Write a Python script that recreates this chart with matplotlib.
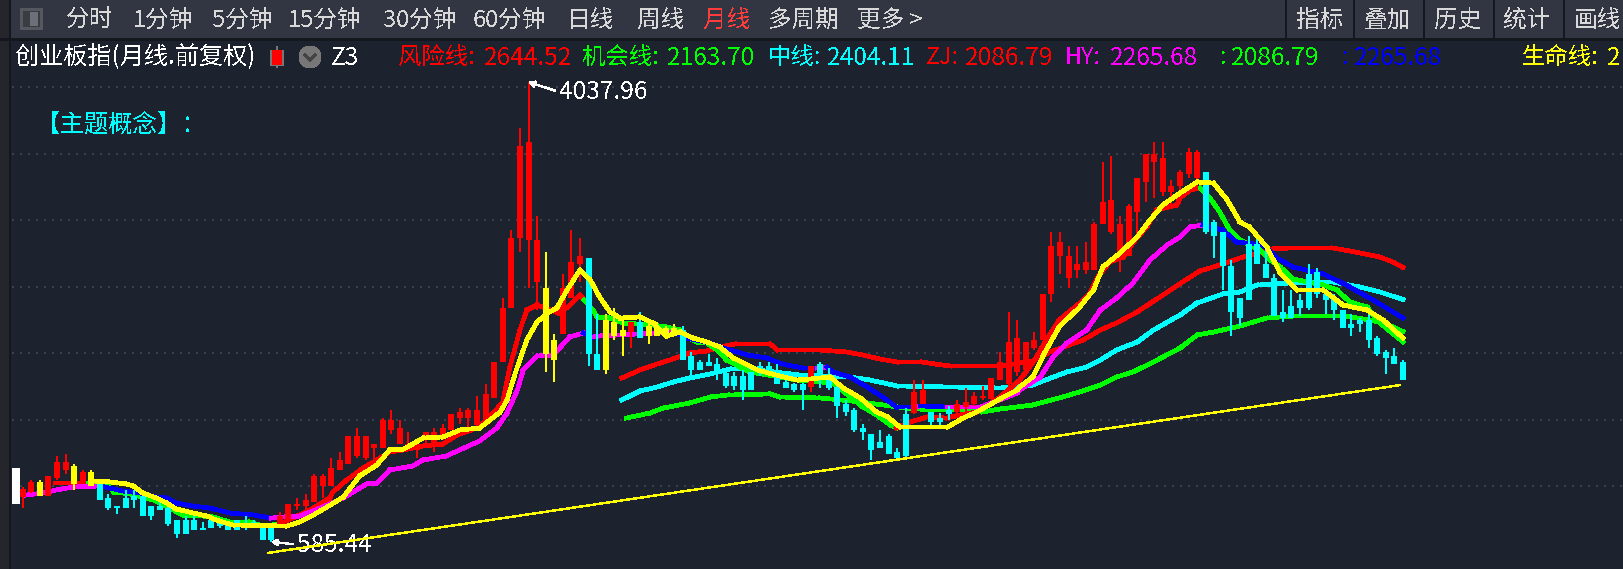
import numpy as np
import matplotlib
matplotlib.use("Agg")
import matplotlib.pyplot as plt
from matplotlib.collections import LineCollection
from matplotlib.patches import Rectangle, Circle

plt.rcParams['font.family'] = ['Noto Sans CJK SC', 'DejaVu Sans']
plt.rcParams['text.antialiased'] = False

# ---------- data: monthly candles (index level) ----------
kinds = ("RRYRRRYRY" + "C"*21 + "R"*31 + "YY" + "RRR" + "CC" + "YYY" + "R" + "C" + "YYYY" +
         "C"*15 + "R" + "C"*11 + "RR" + "CCC" + "R"*29 + "C"*24)
highs = [996,1049,1049,1079,1229,1244,1169,1124,1124,1019,
944,853,974,974,929,853,899,853,748,778,
778,733,748,748,733,748,778,748,703,688,
808,868,914,944,1094,1094,1214,1259,1379,1439,
1379,1319,1515,1575,1499,1409,1349,1409,1439,1469,
1544,1590,1590,1680,1770,1935,2416,2926,3692,4038,
3031,2761,2145,2596,2926,2866,2716,2295,2295,2340,
2280,2235,2310,2235,2235,2205,2220,2205,2010,1950,
1995,1965,1860,1860,1875,1860,1935,1935,1920,1830,
1777,1777,1905,1935,1890,1755,1650,1590,1469,1394,
1424,1394,1289,1590,1800,1800,1560,1552,1605,1650,
1740,1710,1755,1815,2010,2310,2250,2085,2160,2446,
2911,2911,2806,2806,2836,2986,3437,3482,3031,3122,
3317,3497,3587,3587,3302,3377,3542,3527,3362,3001,
2911,2701,2416,2881,2866,2776,2596,2476,2476,2446,
2671,2641,2476,2446,2325,2295,2265,2295,2130,2025,
2040,1950]
body_top = [981,1034,1034,1079,1184,1184,1154,1109,1109,1019,
914,853,914,929,929,853,853,838,748,748,
748,688,748,733,733,748,718,733,703,688,
778,868,868,899,1079,1079,1139,1199,1379,1379,
1379,1319,1499,1499,1439,1319,1312,1409,1409,1439,
1544,1560,1575,1575,1695,1935,2340,2866,3557,3587,
2851,2491,2100,2491,2686,2731,2716,1995,2250,2235,
2175,2235,2235,2205,2190,2190,2190,2175,1980,1935,
1935,1920,1852,1830,1830,1860,1905,1905,1845,1785,
1770,1770,1905,1920,1800,1747,1620,1575,1439,1394,
1334,1379,1259,1545,1710,1725,1560,1515,1575,1620,
1635,1680,1680,1815,1935,2085,2115,2085,2100,2446,
2806,2836,2731,2671,2686,2971,3137,3152,2971,3107,
3317,3497,3497,3467,3257,3362,3512,3512,3362,2986,
2911,2656,2416,2821,2821,2671,2566,2311,2356,2401,
2596,2611,2446,2416,2325,2220,2250,2250,2115,2010,
1980,1935]
body_bottom = [921,959,929,929,1064,1124,1019,1019,1004,899,
838,838,838,899,778,778,824,718,643,643,
673,673,688,703,673,673,703,703,598,598,
718,748,853,853,883,1004,1004,1124,1169,1229,
1214,1289,1289,1424,1319,1274,1274,1349,1319,1372,
1424,1515,1515,1462,1462,1665,1935,2340,2866,2851,
2536,1995,1950,2145,2416,2671,1995,1875,1875,2130,
2130,2160,2115,2130,2130,2123,2130,1950,1875,1875,
1905,1860,1755,1755,1725,1725,1852,1852,1770,1740,
1725,1725,1747,1815,1740,1605,1560,1424,1409,1274,
1289,1244,1214,1229,1552,1620,1484,1484,1545,1560,
1597,1620,1665,1657,1800,1770,1860,1875,2040,2100,
2446,2731,2566,2626,2626,2626,2971,2911,2701,2731,
3062,3287,3437,3212,3212,3257,3347,3317,2911,2881,
2656,2311,2265,2401,2671,2566,2280,2265,2265,2340,
2340,2446,2401,2325,2190,2190,2220,2100,1995,1965,
1920,1800]
lows = [838,951,929,929,1049,1094,974,1019,1004,899,
824,793,838,838,778,748,824,703,613,643,
673,673,688,688,673,673,673,703,598,585,
718,748,824,824,883,914,1004,1124,1169,1214,
1199,1199,1289,1394,1319,1274,1214,1312,1259,1349,
1424,1469,1447,1462,1462,1665,1935,2340,2761,2491,
2325,1860,1785,2145,2416,2536,1905,1875,1845,2100,
1980,2040,2115,2070,2130,2123,2130,1950,1830,1875,
1905,1800,1740,1725,1650,1725,1830,1852,1770,1740,
1710,1575,1710,1740,1725,1515,1530,1409,1349,1199,
1289,1244,1214,1222,1545,1620,1454,1454,1499,1537,
1537,1605,1650,1657,1800,1755,1830,1830,2025,2100,
2386,2596,2491,2566,2596,2626,2971,2896,2611,2731,
2896,3137,3167,3182,3107,3122,3317,3227,2896,2716,
2476,2130,2205,2401,2671,2566,2280,2235,2265,2280,
2325,2416,2295,2250,2190,2130,2160,2040,1980,1845,
1920,1800]

# ---------- data: indicator lines, read at the listed month indices ----------
life_idx = [8.2,10.2,12.1,12.9,14,15.6,16.8,17.9,19.9,21.5,22.6,24.5,30.8,32.3,33.9,35.5,37.4,39.3,41.3,42.8,44.4,45.5,46.7,49,51,53.3,54.5,55.7,56.5,57.2,57.7,58.8,60,61.2,62.3,63.5,65,66.2,67.3,68.5,69.7,72,73.5,75.1,76.7,78.2,79.8,81.3,82.9,85.7,88.3,90.3,91.8,94.2,95.7,97.7,99.6,100.9,102.3,107.9,109.7,111.3,114,116,116.3,117.8,119.2,120.9,123.3,124.9,126,128,130,131.5,133,135,137,138.9,140.5,142,143.1,145.1,146.7,148.6,151.7,154,156.8,158.7,161]
life_val = [1041,1034,1019,1004,951,914,876,831,801,778,748,711,703,733,786,846,921,1079,1161,1274,1281,1319,1364,1372,1424,1439,1499,1560,1650,1800,1897,2100,2235,2303,2340,2476,2626,2551,2423,2311,2265,2273,2228,2130,2160,2115,2085,2048,1965,1875,1830,1800,1807,1822,1740,1665,1560,1522,1447,1447,1514,1560,1657,1725,1747,1822,2003,2198,2348,2476,2648,2754,2874,3001,3114,3204,3287,3279,3152,2986,2949,2799,2603,2476,2476,2363,2325,2250,2115]

hy_idx = [0.4,2.4,3.9,5.9,9,11.7,13.7,15.6,16.8,17.9,19.9,21.8,24.2,26.9,29,30.4,32.3,34.7,37.4,40.1,41.3,42.8,45.5,46.7,49.4,53.3,55.3,56.5,57.7,58.4,60,61.9,63.8,65.4,66.5,67.3,75.9,77.5,80.1,82.5,84.5,86.8,88.3,89.2,91,92.7,93.8,94.5,96.5,98.5,100.3,101.9,103.9,104.7,107.8,111.7,114,116,116.3,118.7,120.2,121.8,124.1,125.7,127.6,129.5,131.5,133.5,135,136.2,137.7,138.5,140,141.6,144.7,146.3,148.2,151.7,154.4,157.5,161]
hy_val = [936,951,974,996,1004,966,951,921,914,876,853,838,801,786,763,771,778,838,914,1019,1026,1124,1154,1199,1229,1342,1439,1552,1725,1875,1980,1988,2123,2153,2123,2130,2160,2115,2078,2025,1988,1965,1927,1912,1890,1890,1897,1860,1822,1747,1672,1597,1597,1605,1597,1597,1650,1702,1725,1822,1972,2078,2175,2325,2416,2528,2701,2814,2874,2949,2964,2949,2926,2836,2814,2716,2648,2596,2513,2401,2266]
hy_blue_spans = [(9,29.5),(65.4,66.5),(75.9,92),(93.8,104),(104.7,107.8),(137.7,161)]

zj_idx = [3.8,7,8.6,9.8,10.6,12.5,14,15.2,16.4,18.7,21,22.2,24.2,26.5,28,30,31.5,33.5,35.8,36.2,37.8,39.7,41.7,42.8,44.4,46.7,49,50.7,53.3,54.9,56,56.8,58,58.8,60,62.5,63.6,65,65.5,66.5,67,68.5,70,73.5,75.1,76.7,77.5,78.6,79.8,81,82.1,84.8,90.3,94.5,98,99.6,101.2,101.9,103.5,105.5,107.8,109.3,111.3,114,116.3,117.8,119.4,120.9,123.3,124.5,125.4,126.8,128.4,129.5,131.1,132.3,134.6,135,136.2,137.3,138.5,139.7,140.8,142,144.3,145.5,146.7,148.2,151.7,153.3,154.8,156.8,158.3,161]
zj_val = [1026,1026,1026,1019,959,944,921,899,861,786,778,771,733,733,703,718,763,824,914,959,1049,1139,1214,1259,1274,1304,1319,1387,1447,1552,1635,1890,2175,2325,2363,2303,2348,2438,2401,2325,2273,2265,2228,2213,2198,2175,2123,2085,2078,2025,1950,1860,1800,1777,1597,1537,1462,1439,1484,1522,1514,1537,1560,1672,1800,1927,2100,2250,2378,2453,2573,2686,2724,2829,2949,3077,3114,3167,3227,3242,3167,3054,2926,2851,2776,2701,2648,2558,2513,2476,2386,2348,2228,2087]
zj_green_spans = [(7,29),(65.5,102),(137.3,161)]

risk_idx = [69.9,72,74,75.5,77.8,79.8,81.9,83.1,87.2,88,93,96.1,98,100,102,104.9,106.4,108.2,114,117.8,119.8,123.7,125.7,127.6,130,133,135.3,137.3,139.6,142,145.8,147.8,152.8,154.8,158.3,159.8,161]
risk_val = [1815,1875,1920,1950,2003,2018,2055,2070,2070,2025,2025,2010,1988,1957,1935,1935,1920,1905,1905,1942,2010,2100,2175,2228,2311,2438,2536,2618,2663,2716,2784,2791,2791,2769,2724,2686,2645]

mid_idx = [69.9,72,74,75.9,77.8,80.2,82.5,84.8,90.7,96.5,98.8,102,114,117.8,119,121.8,124.1,125.7,127.6,130,131.9,135,137,140,142,144,147.8,152.8,156,158.3,161]
mid_val = [1650,1717,1747,1785,1815,1845,1882,1882,1837,1822,1800,1755,1740,1762,1792,1860,1897,1950,2025,2085,2175,2288,2378,2446,2461,2513,2528,2536,2498,2461,2404]

chance_idx = [70.4,73.2,74.7,77.8,80.2,82.2,87.2,88.3,93,97.7,103.9,109.3,112,114,117.8,120.9,123.3,125.7,127.6,129.5,131.9,135,137,138.9,142,145.1,148.2,154.4,157.1,159.1,161]
chance_val = [1514,1552,1589,1627,1672,1687,1695,1672,1665,1635,1582,1574,1560,1582,1612,1665,1710,1762,1822,1860,1935,2040,2138,2160,2205,2265,2280,2280,2250,2220,2164]

trend_idx = [28.6, 160.6]
trend_val = [501, 1761]
grid_levels = [4000, 3500, 3000, 2500, 2000, 1500, 1000]
cursor_idx, cursor_top, cursor_bottom = -0.78, 1139, 868
peak_idx, peak_val = 59, 4037.96
trough_idx, trough_val = 29, 585.44

toolbar_labels = ["分时", "1分钟", "5分钟", "15分钟", "30分钟", "60分钟", "日线", "周线", "月线", "多周期", "更多 >"]
toolbar_x = [66, 133, 212, 288, 383, 473, 567, 637, 703, 768, 857]
tool_right = ["指标", "叠加", "历史", "统计", "画线"]
tool_right_x = [1296, 1364, 1434, 1503, 1574]
tool_right_sep = [1285, 1353, 1423, 1493, 1563]

legend_names = [("风险线:", 398, "#ff0000"), ("机会线:", 582, "#00ff00"), ("中线:", 768, "#00ffff"),
                ("ZJ:", 926, "#ff0000"), ("HY:", 1065, "#ff00ff"), (":", 1220, "#00ff00"),
                (":", 1342, "#0000ff"), ("生命线:", 1522, "#ffff00")]
legend_values = [("2644.52", 484, "#ff0000"), ("2163.70", 667, "#00ff00"), ("2404.11", 827, "#00ffff"),
                 ("2086.79", 965, "#ff0000"), ("2265.68", 1110, "#ff00ff"), ("2086.79", 1231, "#00ff00"),
                 ("2265.68", 1354, "#0000ff"), ("2", 1607, "#ffff00")]

# ---------- colours ----------
BG = "#1c222e"
BAR = "#323542"
DARK = "#14171d"
COL = {"R": "#ff0000", "C": "#00ffff", "Y": "#ffff00"}

W, H = 1623, 569
fig = plt.figure(figsize=(W/100, H/100), dpi=100, facecolor=BG)
ax = fig.add_axes([0, 0, 1, 1], facecolor=BG)
ax.set_xlim(-2.648, 186.67)
ax.set_ylim(380.4, 4653.6)
ax.axis("off")

PX = 0.72  # points per pixel
LW = 3.7 * PX

ax.hlines(grid_levels, -1.25, 186.67, colors="#3b414b", linewidth=2*PX,
          linestyles=[(0, (1, 3))], antialiased=False, zorder=1)


def span_colours(idx, spans, base, alt):
    cols = []
    for a, b in zip(idx[:-1], idx[1:]):
        m = (a + b) / 2
        cols.append(alt if any(s <= m <= e for s, e in spans) else base)
    return cols


def add_line(idx, val, colours, z):
    pts = np.column_stack([idx, val])
    segs = np.stack([pts[:-1], pts[1:]], axis=1)
    ax.add_collection(LineCollection(segs, colors=colours, linewidths=LW, capstyle="projecting",
                                     antialiaseds=False, zorder=z))


add_line(chance_idx, chance_val, "#00ff00", 2)
add_line(mid_idx, mid_val, "#00ffff", 2.1)
add_line(risk_idx, risk_val, "#ff0000", 2.2)
add_line(zj_idx, zj_val, span_colours(zj_idx, zj_green_spans, "#ff0000", "#00ff00"), 2.3)
add_line(hy_idx, hy_val, span_colours(hy_idx, hy_blue_spans, "#ff00ff", "#0000ff"), 2.4)

# candles
x = np.arange(len(kinds))
cols = [COL[k] for k in kinds]
ax.vlines(x, lows, highs, colors=cols, linewidth=2*PX, antialiased=False, zorder=3)
ax.bar(x, np.array(body_top) - np.array(body_bottom), bottom=body_bottom, width=6/8.573,
       color=cols, linewidth=0, antialiased=False, zorder=3.1)
ax.bar([cursor_idx], [cursor_top - cursor_bottom], bottom=[cursor_bottom], width=8/8.573,
       color="white", linewidth=0, antialiased=False, zorder=3.2)

# life line and trend line on top
add_line(life_idx, life_val, "#ffff00", 4)
ax.plot(trend_idx, trend_val, color="#ffff00", lw=1.4*PX, antialiased=False, zorder=6)

# extreme labels
arrow = dict(arrowstyle="->", color="white", lw=1.0, shrinkA=1, shrinkB=0, relpos=(0, 0.5),
             antialiased=False, mutation_scale=9)
ax.annotate("4037.96", xy=(peak_idx, peak_val), xytext=(30.5, -10), textcoords="offset pixels",
            color="white", fontsize=17.6, va="center", ha="left", arrowprops=arrow, zorder=5)
ax.annotate("585.44", xy=(trough_idx, trough_val), xytext=(26, -3), textcoords="offset pixels",
            color="white", fontsize=17.6, va="center", ha="left", arrowprops=arrow, zorder=5)

# ---------- software chrome, in pixel units ----------
ui = fig.add_axes([0, 0, 1, 1], facecolor="none", zorder=10)
ui.set_xlim(0, W)
ui.set_ylim(H, 0)
ui.axis("off")


def rect(x0, y0, w, h, c, **kw):
    ui.add_patch(Rectangle((x0, y0), w, h, facecolor=c, edgecolor="none", antialiased=False, **kw))


rect(0, 0, W, 38, BAR)
rect(0, 38, W, 3, DARK)
rect(0, 0, 10, 38, "#25262c")
rect(0, 41, 10, H-41, "#25262b")
rect(9, 0, 2, H, DARK)
rect(20, 8, 23, 22, "#55585f")
rect(23, 11, 17, 16, "#3a3c44")
rect(30, 12, 8, 14, "#6d7076")
for s in tool_right_sep:
    rect(s, 0, 2, 38, DARK)

FS = 17.0
for s, xp in zip(toolbar_labels, toolbar_x):
    ui.text(xp, 20, s, color="#ff3c3c" if s == "月线" else "#d8d8d8", fontsize=FS, va="center", ha="left")
for s, xp in zip(tool_right, tool_right_x):
    ui.text(xp, 20, s, color="#d8d8d8", fontsize=FS, va="center", ha="left")

ROW = 57.5
ui.text(15, ROW, "创业板指(月线.前复权)", color="white", fontsize=17.4, va="center", ha="left")
rect(276, 46, 2, 22, "#777777")
rect(270, 50, 14, 16, "#777777")
rect(272, 50, 10, 15, "#ff0000")
ui.add_patch(Circle((310, 57), 11, facecolor="#777777", edgecolor="none", antialiased=False))
ui.plot([305, 310, 315], [55, 60, 55], color="#444444", lw=1.5, antialiased=False)
ui.text(331, ROW, "Z3", color="white", fontsize=17.6, va="center", ha="left")
for s, xp, c in legend_names:
    ui.text(xp, ROW, s, color=c, fontsize=16.8, va="center", ha="left")
for s, xp, c in legend_values:
    ui.text(xp, ROW, s, color=c, fontsize=17.6, va="center", ha="left")

ui.text(36, 126, "【主题概念】：", color="#00ffff", fontsize=17.6, va="center", ha="left")

fig.savefig("out.png", dpi=100, facecolor=BG)
